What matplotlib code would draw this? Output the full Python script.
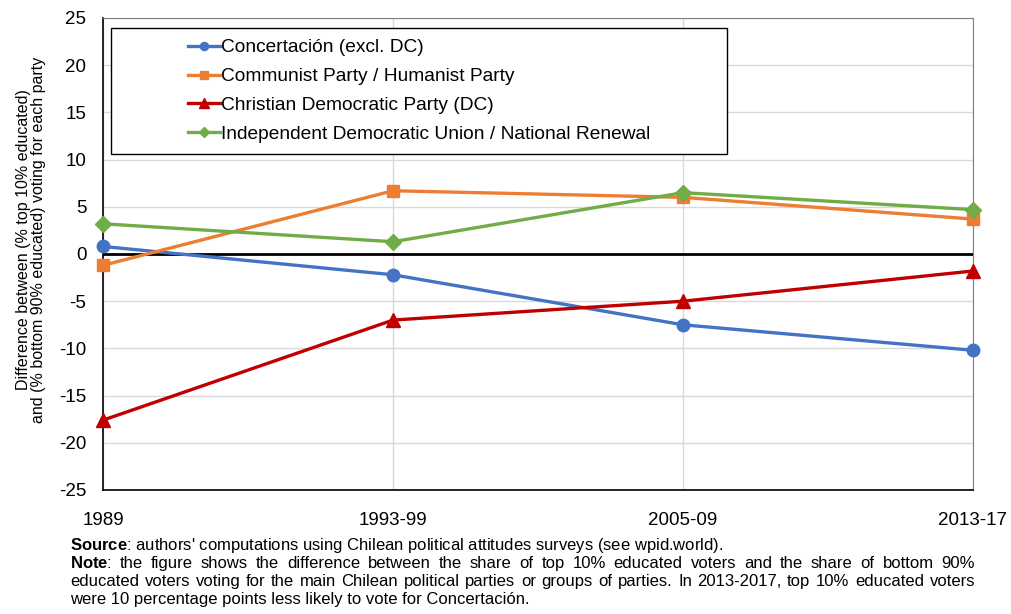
import matplotlib.pyplot as plt
from matplotlib.patches import Rectangle

# periodes et series
periodes = ["1989", "1993-99", "2005-09", "2013-17"]
concertacion = [0.8, -2.2, -7.5, -10.2]
communiste = [-1.2, 6.7, 6.0, 3.7]
democratie_chretienne = [-17.6, -7.0, -5.0, -1.8]
udi_rn = [3.2, 1.3, 6.5, 4.7]

noms = [
    "Concertación (excl. DC)",
    "Communist Party / Humanist Party",
    "Christian Democratic Party (DC)",
    "Independent Democratic Union / National Renewal",
]

plt.rcParams["font.family"] = ["Liberation Sans", "DejaVu Sans"]
plt.rcParams["axes.unicode_minus"] = False
plt.rcParams["mathtext.fontset"] = "custom"
plt.rcParams["mathtext.bf"] = "Liberation Sans:bold"
plt.rcParams["mathtext.rm"] = "Liberation Sans"

W, H = 1012, 614
fig = plt.figure(figsize=(W / 100, H / 100), dpi=100)
ax = fig.add_axes([103 / W, 1 - 490 / H, (973 - 103) / W, (490 - 18) / H])

x = list(range(len(periodes)))
styles = dict(lw=2.4, clip_on=False, zorder=4)
ax.plot(x, concertacion, color="#4472C4", marker="o", ms=9, label=noms[0], **styles)
ax.plot(x, communiste, color="#ED7D31", marker="s", ms=8, label=noms[1], **styles)
ax.plot(x, democratie_chretienne, color="#C00000", marker="^", ms=10, label=noms[2], **styles)
ax.plot(x, udi_rn, color="#70AD47", marker="D", ms=8, label=noms[3], **styles)

ax.axhline(0, color="black", lw=2, zorder=3)
ax.set_xlim(0, 3)
ax.set_ylim(-25, 25)
ax.set_yticks(range(-25, 26, 5))
ax.set_xticks(x)
ax.set_xticklabels(periodes)
ax.tick_params(axis="y", labelsize=13.5, length=0, pad=12)
ax.tick_params(axis="x", labelsize=13.5, length=0, pad=16)
ax.grid(True, color="#D9D9D9", lw=1)
ax.set_axisbelow(True)
for cote in ["top", "right"]:
    ax.spines[cote].set_color("#808080")
for cote in ["left", "bottom"]:
    ax.spines[cote].set_color("black")
    ax.spines[cote].set_linewidth(1.2)

fig.text(31 / W, 1 - 240 / H,
         "Difference between (% top 10% educated)\nand (% bottom 90% educated) voting for each party",
         rotation=90, ha="center", va="center", multialignment="center",
         fontsize=11.5, linespacing=1.0)

# cadre de la legende
cadre = (8 / 870, (490 - 154) / 472, 616 / 870, 126 / 472)
ax.add_patch(Rectangle(cadre[:2], cadre[2], cadre[3], transform=ax.transAxes,
                       facecolor="white", edgecolor="black", lw=1, zorder=5))
leg = ax.legend(loc="center", bbox_to_anchor=(cadre[0] + cadre[2] / 2, cadre[1] + cadre[3] / 2),
                fontsize=13.8, frameon=False, handlelength=1.65, handletextpad=0.05,
                labelspacing=0.6, markerscale=0.65, borderpad=0)
leg.set_zorder(6)

# texte de bas de page
renderer = fig.canvas.get_renderer()
x0, x1 = 70 / W, 975 / W
lignes = [
    ("$\\bf{Source}$: authors' computations using Chilean political attitudes surveys (see wpid.world).", False),
    ("$\\bf{Note}$: the figure shows the difference between the share of top 10% educated voters and the share of bottom 90%", True),
    ("educated voters voting for the main Chilean political parties or groups of parties. In 2013-2017, top 10% educated voters", True),
    ("were 10 percentage points less likely to vote for Concertación.", False),
]
for i, (ligne, justifie) in enumerate(lignes):
    yy = 1 - (550 + i * 18) / H
    if not justifie:
        fig.text(x0, yy, ligne, fontsize=12, va="baseline")
        continue
    mots = ligne.split(" ")
    textes = [fig.text(x0, yy, m, fontsize=12, va="baseline") for m in mots]
    largeurs = [t.get_window_extent(renderer).width / W for t in textes]
    espace = (x1 - x0 - sum(largeurs)) / (len(mots) - 1)
    pos = x0
    for t, l in zip(textes, largeurs):
        t.set_x(pos)
        pos += l + espace

fig.savefig("out.png", dpi=100)
